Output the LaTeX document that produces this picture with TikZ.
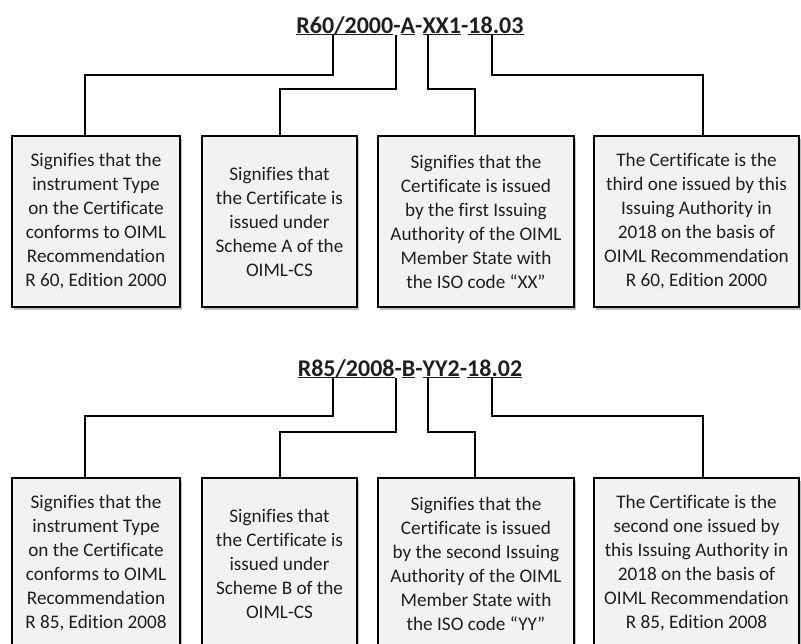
\documentclass[tikz,border=0pt]{standalone}
\usepackage{fontspec}
\setmainfont[Ligatures=NoCommon]{Carlito}
\usetikzlibrary{shadows}
\definecolor{boxgray}{HTML}{F2F2F2}
\newcommand{\ulpart}[1]{\underline{\raisebox{0pt}[\height][0pt]{#1}}}
\tikzset{
  infobox/.style={draw=black, line width=1.6pt, fill=boxgray, minimum height=171pt,
    inner sep=0pt, align=center, font=\fontsize{19.2}{24}\selectfont, text=black!88,
    drop shadow={shadow xshift=2pt, shadow yshift=-3pt, fill=black, opacity=0.25}},
  conn/.style={line width=1.6pt, black},
  titlestyle/.style={font=\fontsize{24}{28}\selectfont\bfseries, text=black!88,
    inner sep=0pt, anchor=base}
}
\begin{document}
\begin{tikzpicture}[x=1pt,y=-1pt]
\useasboundingbox (0,0) rectangle (801,643);
\clip (0,0) rectangle (801,643);

% ---------- top group ----------
\node[titlestyle] (t1) at (410,33) {\ulpart{R60/2000}-\ulpart{A}-\ulpart{XX1}-\ulpart{18.03}};

\node[infobox, minimum width=168pt] (b1) at (96,221.5)
  {Signifies that the\\instrument Type\\on the Certificate\\conforms to OIML\\Recommendation\\R 60, Edition 2000};
\node[infobox, minimum width=155pt] (b2) at (279.5,221.5)
  {Signifies that\\the Certificate is\\issued under\\Scheme A of the\\OIML-CS};
\node[infobox, minimum width=196pt] (b3) at (476,221.5)
  {Signifies that the\\Certificate is issued\\by the first Issuing\\Authority of the OIML\\Member State with\\the ISO code “XX”};
\node[infobox, minimum width=205pt] (b4) at (696.5,221.5)
  {The Certificate is the\\third one issued by this\\Issuing Authority in\\2018 on the basis of\\OIML Recommendation\\R 60, Edition 2000};

\coordinate (c1) at (t1.south -| 333,0);
\coordinate (c2) at (t1.south -| 396,0);
\coordinate (c3) at (t1.south -| 428,0);
\coordinate (c4) at (t1.south -| 492,0);

\draw[conn] (c1) -- (c1 |- 0,75) -| (b1.north -| 85,0);
\draw[conn] (c2) -- (c2 |- 0,89) -| (b2.north -| 280,0);
\draw[conn] (c3) -- (c3 |- 0,89) -| (b3.north -| 475,0);
\draw[conn] (c4) -- (c4 |- 0,75) -| (b4.north -| 703,0);

% ---------- bottom group ----------
\node[titlestyle] (t2) at (410,376) {\ulpart{R85/2008}-\ulpart{B}-\ulpart{YY2}-\ulpart{18.02}};

\node[infobox, minimum width=168pt] (b5) at (96,563.5)
  {Signifies that the\\instrument Type\\on the Certificate\\conforms to OIML\\Recommendation\\R 85, Edition 2008};
\node[infobox, minimum width=155pt] (b6) at (279.5,563.5)
  {Signifies that\\the Certificate is\\issued under\\Scheme B of the\\OIML-CS};
\node[infobox, minimum width=196pt] (b7) at (476,563.5)
  {Signifies that the\\Certificate is issued\\by the second Issuing\\Authority of the OIML\\Member State with\\the ISO code “YY”};
\node[infobox, minimum width=205pt] (b8) at (696.5,563.5)
  {The Certificate is the\\second one issued by\\this Issuing Authority in\\2018 on the basis of\\OIML Recommendation\\R 85, Edition 2008};

\coordinate (c5) at (t2.south -| 333,0);
\coordinate (c6) at (t2.south -| 396,0);
\coordinate (c7) at (t2.south -| 428,0);
\coordinate (c8) at (t2.south -| 492,0);

\draw[conn] (c5) -- (c5 |- 0,416) -| (b5.north -| 85,0);
\draw[conn] (c6) -- (c6 |- 0,432) -| (b6.north -| 280,0);
\draw[conn] (c7) -- (c7 |- 0,432) -| (b7.north -| 475,0);
\draw[conn] (c8) -- (c8 |- 0,416) -| (b8.north -| 703,0);
\end{tikzpicture}
\end{document}
